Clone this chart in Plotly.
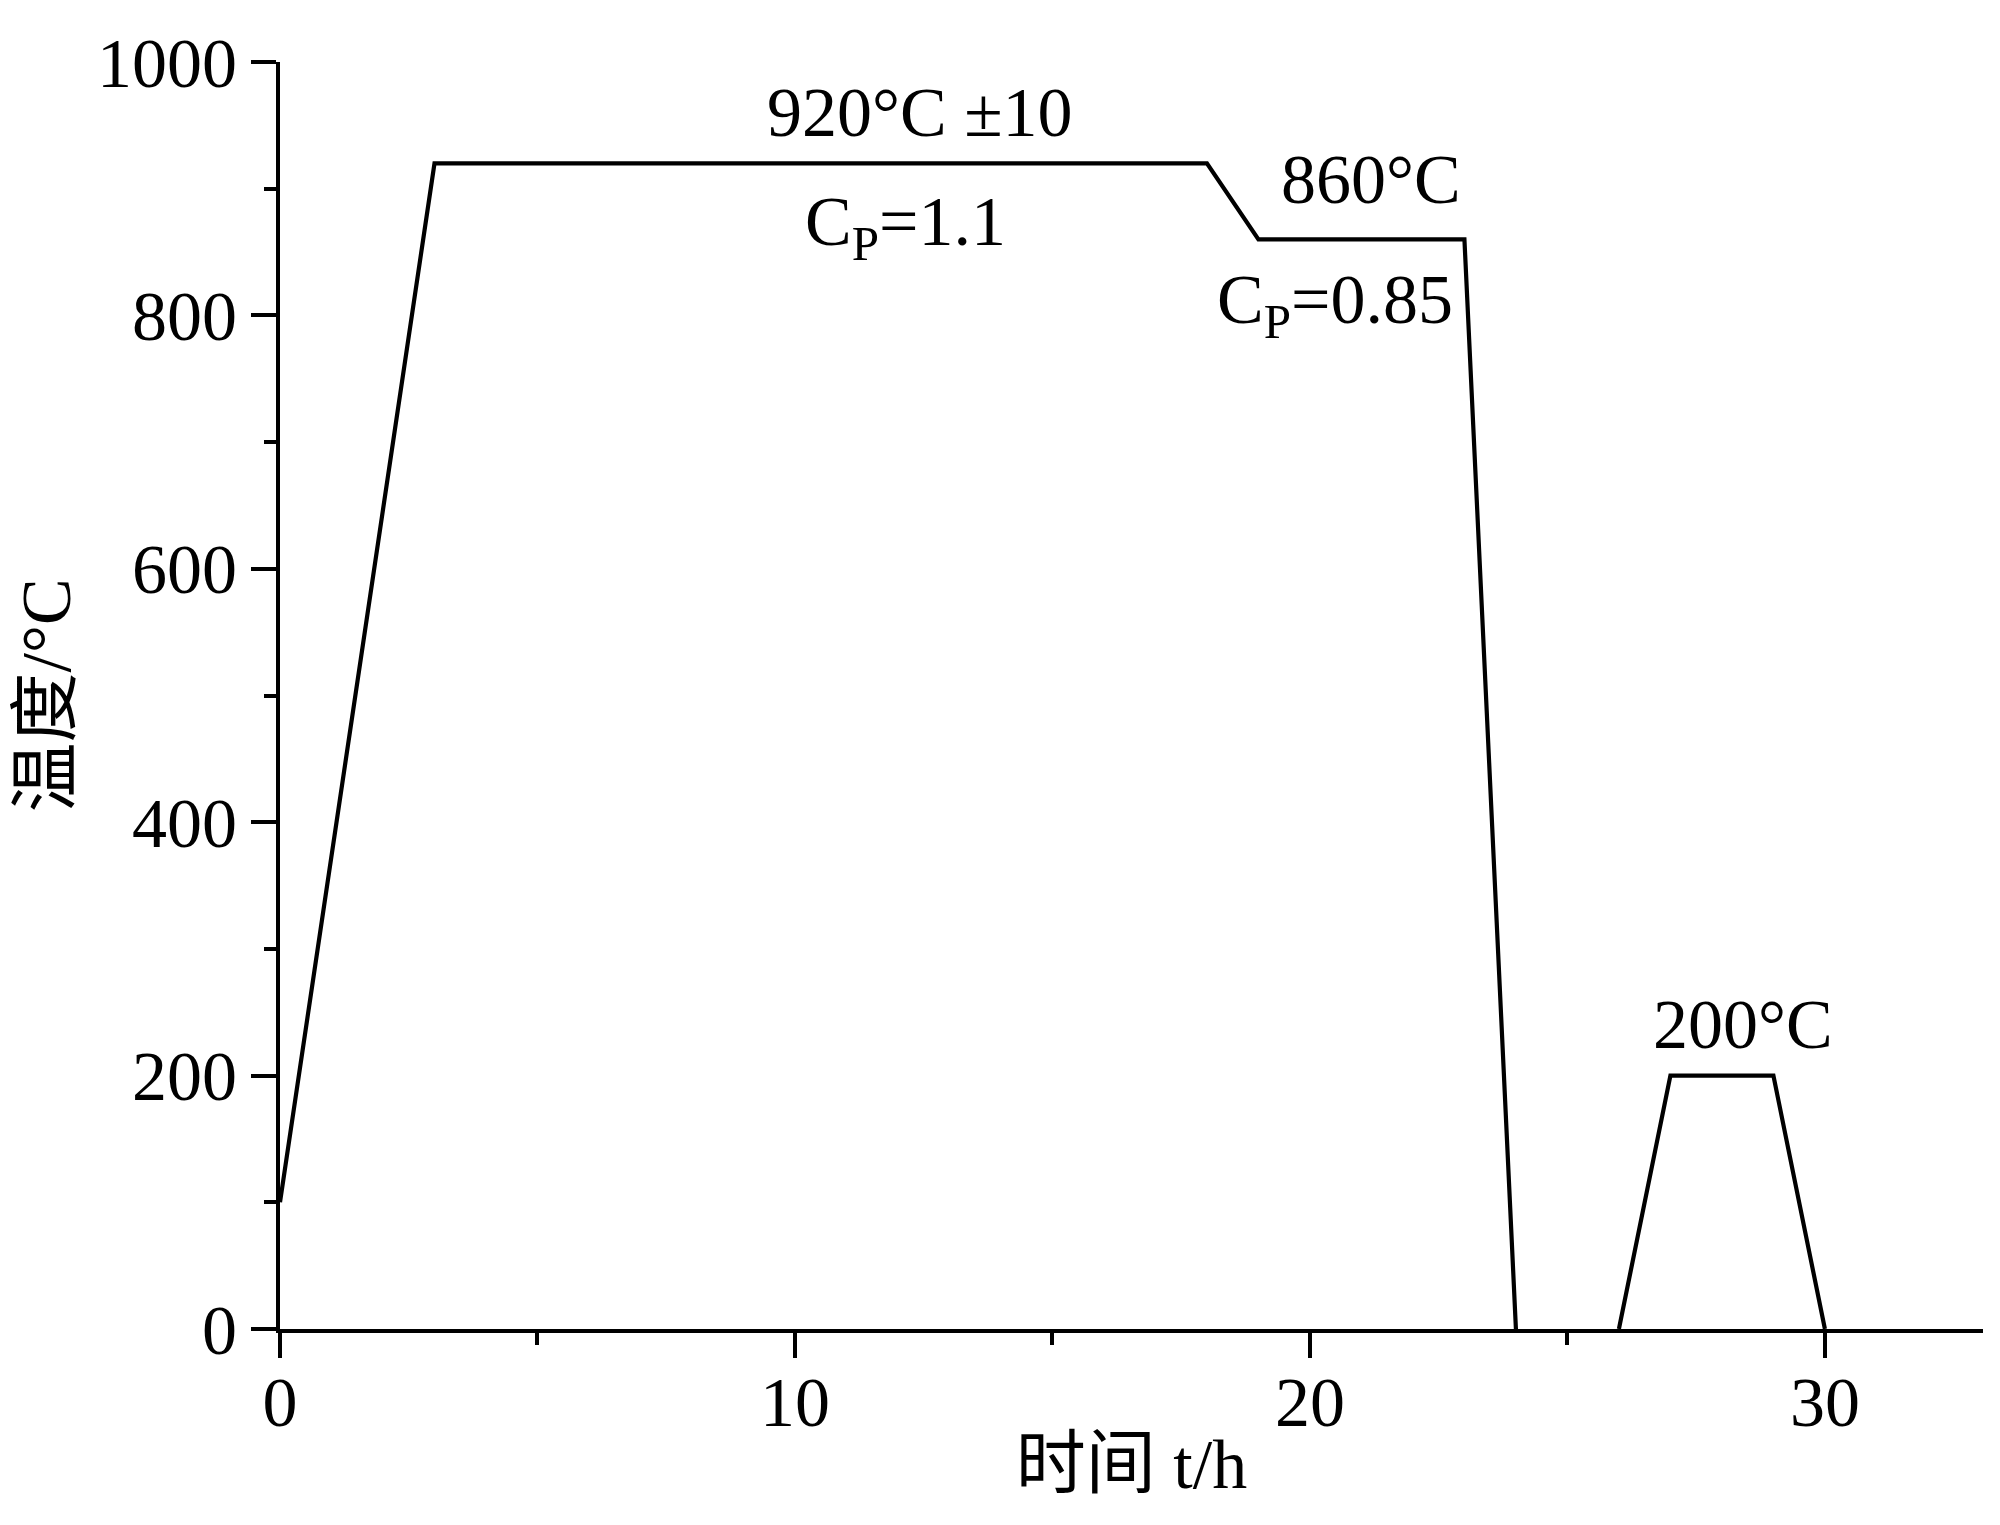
import plotly.graph_objects as go

# Heat-treatment profile (time in h, temperature in °C)
time_h = [0, 3, 18, 19, 23, 24, None, 26, 27, 29, 30]
temp_c = [100, 920, 920, 860, 860, 0, None, 0, 200, 200, 0]

# Annotation labels and anchor positions (data units)
label_text = ["920°C ±10", "C<sub>P</sub>=1.1", "860°C", "C<sub>P</sub>=0.85", "200°C"]
label_x = [12.43, 12.14, 21.18, 20.49, 28.41]
label_y = [960, 870, 907, 808, 240]

x_ticks = [0, 10, 20, 30]
y_ticks = [0, 200, 400, 600, 800, 1000]

FONT = "Liberation Serif, Times New Roman, Noto Sans CJK SC"

fig = go.Figure()
fig.add_trace(go.Scatter(
    x=time_h, y=temp_c, mode="lines",
    line=dict(color="black", width=4.2),
    connectgaps=False, showlegend=False, hoverinfo="skip",
))

for t, x, y in zip(label_text, label_x, label_y):
    fig.add_annotation(x=x, y=y, text=t, showarrow=False,
                       font=dict(family=FONT, size=70, color="black"),
                       xanchor="center", yanchor="middle")

axis_common = dict(
    showline=True, linecolor="black", linewidth=4.2,
    ticks="outside", ticklen=25, tickwidth=4.2, tickcolor="black",
    showgrid=False, zeroline=False,
    tickfont=dict(family=FONT, size=70, color="black"),
)

fig.update_xaxes(
    range=[0, 33.07], tickvals=x_ticks, automargin=False,
    minor=dict(dtick=5, ticks="outside", ticklen=12, tickwidth=4.2, tickcolor="black", showgrid=False),
    title=dict(text="时间 t/h", font=dict(family=FONT, size=70, color="black"), standoff=0),
    ticklabelstandoff=-16,
    **axis_common,
)
fig.update_yaxes(
    range=[0, 1000], tickvals=y_ticks, automargin=True,
    minor=dict(dtick=100, ticks="outside", ticklen=12, tickwidth=4.2, tickcolor="black", showgrid=False),
    title=dict(text="温度/°C", font=dict(family=FONT, size=70, color="black"), standoff=10),
    **axis_common,
)

fig.update_layout(
    width=2000, height=1525,
    margin=dict(l=272, r=25, t=54, b=204),
    plot_bgcolor="white", paper_bgcolor="white",
)

fig.write_html("out.html")
